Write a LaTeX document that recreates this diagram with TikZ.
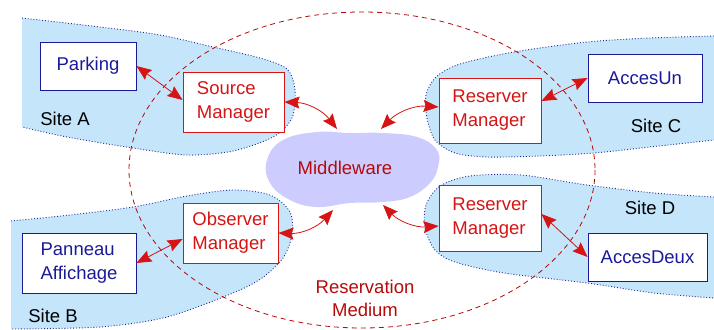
\documentclass[tikz,border=0pt]{standalone}
\usepackage{fontspec}
\setmainfont{Liberation Sans}
\usetikzlibrary{arrows.meta}
\definecolor{siteblue}{RGB}{197,229,251}
\definecolor{siteline}{RGB}{30,40,150}
\definecolor{navy}{RGB}{26,26,153}
\definecolor{mgrred}{RGB}{214,20,20}
\definecolor{darkred}{RGB}{180,10,10}
\definecolor{blob}{RGB}{204,204,255}
\tikzset{
  sitefill/.style={fill=siteblue},
  siteedge/.style={draw=siteline, line width=0.9pt, dotted},
  device/.style={draw=navy, fill=white, line width=0.9pt, text=navy, align=left, inner sep=0pt},
  manager/.style={draw=mgrred, fill=white, line width=0.9pt, text=mgrred, align=left, inner sep=0pt},
  sitelabel/.style={text=black},
  link/.style={draw=mgrred, line width=0.8pt, {Stealth[length=15pt,width=12pt,inset=2pt]}-{Stealth[length=15pt,width=12pt,inset=2pt]}},
  medium/.style={draw=darkred, line width=0.8pt, dash pattern=on 5pt off 4pt},
}
\begin{document}
\begin{tikzpicture}[x=1pt, y=-1pt, font=\fontsize{18.5}{24}\selectfont]
\useasboundingbox (0,0) rectangle (714,329);

% sites
\fill[sitefill] plot[smooth] coordinates {(22,18) (100,27) (160,35) (213,47) (260,58) (287,69) (295,90) (292,118) (273,137) (233,151) (187,155) (133,148) (67,137) (22,127)} -- cycle;
\draw[siteedge] plot[smooth] coordinates {(22,18) (100,27) (160,35) (213,47) (260,58) (287,69) (295,90) (292,118) (273,137) (233,151) (187,155) (133,148) (67,137) (22,127)};

\fill[sitefill] plot[smooth] coordinates {(11,221) (70,215) (133,207) (187,196) (233,190) (270,195) (290,212) (292,235) (283,258) (262,278) (233,293) (167,317) (100,327) (11,329)} -- cycle;
\draw[siteedge] plot[smooth] coordinates {(11,221) (70,215) (133,207) (187,196) (233,190) (270,195) (290,212) (292,235) (283,258) (262,278) (233,293) (167,317) (100,327) (11,329)};

\fill[sitefill] plot[smooth] coordinates {(714,36) (650,38) (587,42) (514,52) (460,64) (436,77) (426,95) (427,118) (435,140) (455,153) (487,157) (540,156) (594,153) (650,147) (714,140)} -- cycle;
\draw[siteedge] plot[smooth] coordinates {(714,36) (650,38) (587,42) (514,52) (460,64) (436,77) (426,95) (427,118) (435,140) (455,153) (487,157) (540,156) (594,153) (650,147) (714,140)};

\fill[sitefill] plot[smooth] coordinates {(714,197) (654,193) (587,185) (521,175) (470,176) (440,186) (426,205) (425,228) (435,250) (455,262) (504,273) (587,283) (654,293) (714,298)} -- cycle;
\draw[siteedge] plot[smooth] coordinates {(714,197) (654,193) (587,185) (521,175) (470,176) (440,186) (426,205) (425,228) (435,250) (455,262) (504,273) (587,283) (654,293) (714,298)};

% reservation medium
\draw[medium] (362,170) ellipse [x radius=233, y radius=158];

% middleware cloud
\fill[blob] plot[smooth cycle, tension=0.7] coordinates {(267,160) (283,140) (317,132) (350,133) (383,133) (417,137) (437,150) (438,167) (430,183) (410,197) (383,202) (350,203) (317,207) (290,200) (270,183)};
\node[text=darkred] (mw) at (345,168) {Middleware};

% site components
\node[device, minimum width=96pt, minimum height=48pt] (park) at (88,66) {Parking};
\node[manager, minimum width=101pt, minimum height=60pt] (src) at (233.5,102) {Source\\Manager};
\node[device, minimum width=114pt, minimum height=48pt] (un) at (645,78) {AccesUn};
\node[manager, minimum width=102pt, minimum height=65pt] (resc) at (490,110.5) {Reserver\\Manager};
\node[manager, minimum width=95pt, minimum height=60pt] (obs) at (230.5,233) {Observer\\Manager};
\node[device, minimum width=114pt, minimum height=60pt] (pan) at (79,263) {Panneau\\Affichage};
\node[manager, minimum width=102pt, minimum height=66pt] (resd) at (490,218) {Reserver\\Manager};
\node[device, minimum width=119pt, minimum height=48pt] (deux) at (647.5,257) {AccesDeux};

\node[sitelabel] (sa) at (65,119) {Site A};
\node[sitelabel] (sb) at (53,316) {Site B};
\node[sitelabel] (sc) at (656,126) {Site C};
\node[sitelabel] (sd) at (650,208) {Site D};
\node[text=darkred, align=center, font=\fontsize{18.5}{23}\selectfont] (rm) at (365,298) {Reservation\\Medium};

% middleware access points
\coordinate (mwa) at (337,129);
\coordinate (mwc) at (381,129);
\coordinate (mwb) at (333,210);
\coordinate (mwd) at (383,205);

% connectors
\draw[link] (park.east) -- (src.west |- 0,100);
\draw[link] (src.east) to[bend left=25] (mwa);
\draw[link] (mwc) to[bend left=25] (resc.west |- 0,107);
\draw[link] (resc.east |- 0,101) -- (un.west);
\draw[link] (pan.east) -- (obs.west |- 0,239);
\draw[link] (obs.east) to[bend right=25] (mwb);
\draw[link] (resd.west |- 0,226) to[bend left=25] (mwd);
\draw[link] (resd.east |- 0,214) -- (deux.west);
\end{tikzpicture}
\end{document}
